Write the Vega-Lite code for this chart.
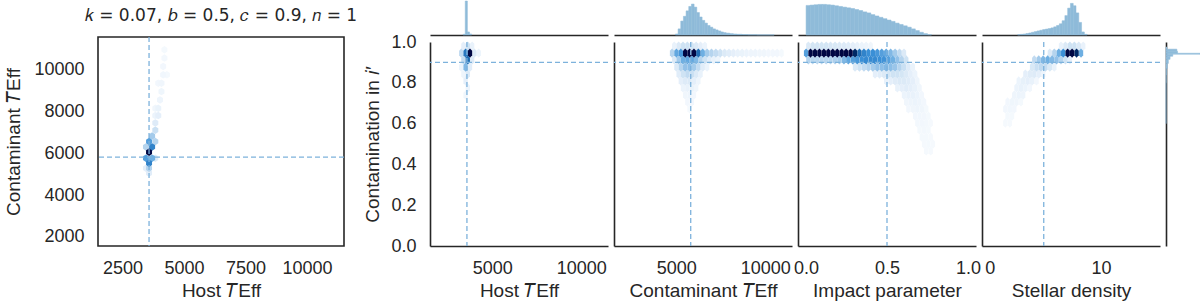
{
  "$schema": "https://vega.github.io/schema/vega-lite/v6.json",
  "padding": {"left": 4, "top": 0, "right": 0, "bottom": 0},
  "background": "white",
  "config": {
    "view": {"stroke": null},
    "axis": {"grid": false, "ticks": false, "tickSize": 0, "labelFont": "Liberation Sans", "labelFontSize": 18, "labelColor": "#262626", "titleFont": "Liberation Sans", "titleFontSize": 19, "titleFontWeight": "normal", "titleColor": "#262626", "domainColor": "#262626", "domainWidth": 1.6, "labelPadding": 13, "titlePadding": 4, "labelFlush": false, "labelOverlap": false},
    "title": {"font": "DejaVu Sans", "fontWeight": "normal", "color": "#262626"}
  },
  "datasets": {
    "truth": [{"host": 3575, "cont": 5810, "c": 0.9, "b": 0.5, "rho": 4.85}],
    "hex": [
      {"p":"L","x":3575,"y":5050,"v":0.12},{"p":"L","x":3575,"y":5280,"v":0.3},{"p":"L","x":3450,"y":5280,"v":0.1},{"p":"L","x":3575,"y":5520,"v":0.75},
      {"p":"L","x":3450,"y":5760,"v":0.6},{"p":"L","x":3700,"y":5760,"v":0.5},{"p":"L","x":3830,"y":5760,"v":0.15},{"p":"L","x":3575,"y":6050,"v":1},
      {"p":"L","x":3450,"y":6300,"v":0.3},{"p":"L","x":3700,"y":6300,"v":0.75},{"p":"L","x":3575,"y":6560,"v":0.6},{"p":"L","x":3830,"y":6560,"v":0.3},
      {"p":"L","x":3700,"y":6820,"v":0.35},{"p":"L","x":3830,"y":7100,"v":0.22},{"p":"L","x":3830,"y":7450,"v":0.14},{"p":"L","x":3950,"y":7800,"v":0.1},
      {"p":"L","x":3830,"y":7800,"v":0.06},{"p":"L","x":3950,"y":8150,"v":0.07},{"p":"L","x":3830,"y":8150,"v":0.04},{"p":"L","x":4020,"y":8550,"v":0.05},
      {"p":"L","x":4080,"y":8950,"v":0.045},{"p":"L","x":4080,"y":9350,"v":0.04},{"p":"L","x":3950,"y":9350,"v":0.03},{"p":"L","x":4150,"y":9750,"v":0.035},
      {"p":"L","x":4300,"y":9750,"v":0.02},{"p":"L","x":4150,"y":10150,"v":0.03},{"p":"L","x":4200,"y":10550,"v":0.025},{"p":"L","x":4200,"y":10950,"v":0.02},

      {"p":"m1","x":3254,"y":0.946,"v":0.25},{"p":"m1","x":3500,"y":0.946,"v":0.8},{"p":"m1","x":3746,"y":0.946,"v":1},{"p":"m1","x":3992,"y":0.946,"v":0.15},{"p":"m1","x":4238,"y":0.946,"v":0.06},
      {"p":"m1","x":3377,"y":0.98,"v":0.1},{"p":"m1","x":3623,"y":0.98,"v":0.2},{"p":"m1","x":3869,"y":0.98,"v":0.08},
      {"p":"m1","x":3377,"y":0.912,"v":0.25},{"p":"m1","x":3623,"y":0.912,"v":0.85},{"p":"m1","x":3869,"y":0.912,"v":0.15},
      {"p":"m1","x":3254,"y":0.877,"v":0.06},{"p":"m1","x":3500,"y":0.877,"v":0.45},{"p":"m1","x":3746,"y":0.877,"v":0.12},
      {"p":"m1","x":3377,"y":0.843,"v":0.05},{"p":"m1","x":3623,"y":0.843,"v":0.15},{"p":"m1","x":3500,"y":0.809,"v":0.1},{"p":"m1","x":3623,"y":0.775,"v":0.06},{"p":"m1","x":3500,"y":0.74,"v":0.04},

      {"p":"m2","x":4762,"y":0.946,"v":0.3},{"p":"m2","x":5008,"y":0.946,"v":0.55},{"p":"m2","x":5254,"y":0.946,"v":0.65},{"p":"m2","x":5500,"y":0.946,"v":1},
      {"p":"m2","x":5746,"y":0.946,"v":1},{"p":"m2","x":5992,"y":0.946,"v":1},{"p":"m2","x":6238,"y":0.946,"v":0.85},{"p":"m2","x":6484,"y":0.946,"v":0.5},
      {"p":"m2","x":6730,"y":0.946,"v":0.35},{"p":"m2","x":6976,"y":0.946,"v":0.3},{"p":"m2","x":7222,"y":0.946,"v":0.25},{"p":"m2","x":7468,"y":0.946,"v":0.2},
      {"p":"m2","x":7714,"y":0.946,"v":0.15},{"p":"m2","x":7960,"y":0.946,"v":0.12},{"p":"m2","x":8206,"y":0.946,"v":0.1},{"p":"m2","x":8452,"y":0.946,"v":0.08},
      {"p":"m2","x":8698,"y":0.946,"v":0.07},{"p":"m2","x":8944,"y":0.946,"v":0.06},{"p":"m2","x":9190,"y":0.946,"v":0.05},{"p":"m2","x":9436,"y":0.946,"v":0.05},
      {"p":"m2","x":9682,"y":0.946,"v":0.04},{"p":"m2","x":9928,"y":0.946,"v":0.04},{"p":"m2","x":10174,"y":0.946,"v":0.03},{"p":"m2","x":10420,"y":0.946,"v":0.03},
      {"p":"m2","x":10666,"y":0.946,"v":0.03},{"p":"m2","x":10912,"y":0.946,"v":0.02},
      {"p":"m2","x":4885,"y":0.98,"v":0.08},{"p":"m2","x":5131,"y":0.98,"v":0.15},{"p":"m2","x":5377,"y":0.98,"v":0.2},{"p":"m2","x":5623,"y":0.98,"v":0.2},
      {"p":"m2","x":5869,"y":0.98,"v":0.18},{"p":"m2","x":6115,"y":0.98,"v":0.15},{"p":"m2","x":6361,"y":0.98,"v":0.1},{"p":"m2","x":6607,"y":0.98,"v":0.06},
      {"p":"m2","x":4885,"y":0.912,"v":0.15},{"p":"m2","x":5131,"y":0.912,"v":0.35},{"p":"m2","x":5377,"y":0.912,"v":0.5},{"p":"m2","x":5623,"y":0.912,"v":0.55},
      {"p":"m2","x":5869,"y":0.912,"v":0.55},{"p":"m2","x":6115,"y":0.912,"v":0.45},{"p":"m2","x":6361,"y":0.912,"v":0.3},{"p":"m2","x":6607,"y":0.912,"v":0.2},
      {"p":"m2","x":6853,"y":0.912,"v":0.12},{"p":"m2","x":7099,"y":0.912,"v":0.08},{"p":"m2","x":7345,"y":0.912,"v":0.05},
      {"p":"m2","x":5008,"y":0.877,"v":0.15},{"p":"m2","x":5254,"y":0.877,"v":0.3},{"p":"m2","x":5500,"y":0.877,"v":0.4},{"p":"m2","x":5746,"y":0.877,"v":0.42},
      {"p":"m2","x":5992,"y":0.877,"v":0.35},{"p":"m2","x":6238,"y":0.877,"v":0.25},{"p":"m2","x":6484,"y":0.877,"v":0.12},{"p":"m2","x":6730,"y":0.877,"v":0.06},
      {"p":"m2","x":5131,"y":0.843,"v":0.12},{"p":"m2","x":5377,"y":0.843,"v":0.2},{"p":"m2","x":5623,"y":0.843,"v":0.25},{"p":"m2","x":5869,"y":0.843,"v":0.22},
      {"p":"m2","x":6115,"y":0.843,"v":0.15},{"p":"m2","x":6361,"y":0.843,"v":0.08},
      {"p":"m2","x":5254,"y":0.809,"v":0.1},{"p":"m2","x":5500,"y":0.809,"v":0.14},{"p":"m2","x":5746,"y":0.809,"v":0.15},{"p":"m2","x":5992,"y":0.809,"v":0.1},{"p":"m2","x":6238,"y":0.809,"v":0.05},
      {"p":"m2","x":5377,"y":0.775,"v":0.06},{"p":"m2","x":5623,"y":0.775,"v":0.08},{"p":"m2","x":5869,"y":0.775,"v":0.07},{"p":"m2","x":6115,"y":0.775,"v":0.04},
      {"p":"m2","x":5500,"y":0.74,"v":0.04},{"p":"m2","x":5746,"y":0.74,"v":0.05},{"p":"m2","x":5992,"y":0.74,"v":0.03},
      {"p":"m2","x":5623,"y":0.706,"v":0.03},{"p":"m2","x":5869,"y":0.706,"v":0.03},{"p":"m2","x":5746,"y":0.672,"v":0.02},

      {"p":"m3","x":0.014,"y":0.98,"v":0.15},{"p":"m3","x":0.041,"y":0.98,"v":0.18},{"p":"m3","x":0.069,"y":0.98,"v":0.18},{"p":"m3","x":0.096,"y":0.98,"v":0.18},
      {"p":"m3","x":0.124,"y":0.98,"v":0.18},{"p":"m3","x":0.151,"y":0.98,"v":0.17},{"p":"m3","x":0.179,"y":0.98,"v":0.16},{"p":"m3","x":0.206,"y":0.98,"v":0.15},
      {"p":"m3","x":0.234,"y":0.98,"v":0.14},{"p":"m3","x":0.261,"y":0.98,"v":0.12},{"p":"m3","x":0.289,"y":0.98,"v":0.1},{"p":"m3","x":0.316,"y":0.98,"v":0.08},
      {"p":"m3","x":0.344,"y":0.98,"v":0.06},{"p":"m3","x":0.371,"y":0.98,"v":0.05},{"p":"m3","x":0.399,"y":0.98,"v":0.04},
      {"p":"m3","x":0,"y":0.946,"v":0.6},{"p":"m3","x":0.0275,"y":0.946,"v":1},{"p":"m3","x":0.055,"y":0.946,"v":1},{"p":"m3","x":0.0825,"y":0.946,"v":1},
      {"p":"m3","x":0.11,"y":0.946,"v":1},{"p":"m3","x":0.1375,"y":0.946,"v":1},{"p":"m3","x":0.165,"y":0.946,"v":1},{"p":"m3","x":0.1925,"y":0.946,"v":1},
      {"p":"m3","x":0.22,"y":0.946,"v":1},{"p":"m3","x":0.2475,"y":0.946,"v":1},{"p":"m3","x":0.275,"y":0.946,"v":1},{"p":"m3","x":0.3025,"y":0.946,"v":0.95},
      {"p":"m3","x":0.33,"y":0.946,"v":0.85},{"p":"m3","x":0.3575,"y":0.946,"v":0.75},{"p":"m3","x":0.385,"y":0.946,"v":0.7},{"p":"m3","x":0.4125,"y":0.946,"v":0.7},
      {"p":"m3","x":0.44,"y":0.946,"v":0.65},{"p":"m3","x":0.4675,"y":0.946,"v":0.6},{"p":"m3","x":0.495,"y":0.946,"v":0.55},{"p":"m3","x":0.5225,"y":0.946,"v":0.45},
      {"p":"m3","x":0.55,"y":0.946,"v":0.35},{"p":"m3","x":0.5775,"y":0.946,"v":0.25},{"p":"m3","x":0.605,"y":0.946,"v":0.15},
      {"p":"m3","x":0.014,"y":0.912,"v":0.3},{"p":"m3","x":0.041,"y":0.912,"v":0.28},{"p":"m3","x":0.069,"y":0.912,"v":0.28},{"p":"m3","x":0.096,"y":0.912,"v":0.28},
      {"p":"m3","x":0.124,"y":0.912,"v":0.28},{"p":"m3","x":0.151,"y":0.912,"v":0.3},{"p":"m3","x":0.179,"y":0.912,"v":0.32},{"p":"m3","x":0.206,"y":0.912,"v":0.35},
      {"p":"m3","x":0.234,"y":0.912,"v":0.45},{"p":"m3","x":0.261,"y":0.912,"v":0.55},{"p":"m3","x":0.289,"y":0.912,"v":0.6},{"p":"m3","x":0.316,"y":0.912,"v":0.65},
      {"p":"m3","x":0.344,"y":0.912,"v":0.7},{"p":"m3","x":0.371,"y":0.912,"v":0.72},{"p":"m3","x":0.399,"y":0.912,"v":0.72},{"p":"m3","x":0.426,"y":0.912,"v":0.72},
      {"p":"m3","x":0.454,"y":0.912,"v":0.7},{"p":"m3","x":0.481,"y":0.912,"v":0.68},{"p":"m3","x":0.509,"y":0.912,"v":0.6},{"p":"m3","x":0.536,"y":0.912,"v":0.5},
      {"p":"m3","x":0.564,"y":0.912,"v":0.4},{"p":"m3","x":0.591,"y":0.912,"v":0.3},{"p":"m3","x":0.619,"y":0.912,"v":0.2},
      {"p":"m3","x":0.3025,"y":0.877,"v":0.15},{"p":"m3","x":0.33,"y":0.877,"v":0.2},{"p":"m3","x":0.3575,"y":0.877,"v":0.25},{"p":"m3","x":0.385,"y":0.877,"v":0.3},
      {"p":"m3","x":0.4125,"y":0.877,"v":0.35},{"p":"m3","x":0.44,"y":0.877,"v":0.4},{"p":"m3","x":0.4675,"y":0.877,"v":0.42},{"p":"m3","x":0.495,"y":0.877,"v":0.45},
      {"p":"m3","x":0.5225,"y":0.877,"v":0.42},{"p":"m3","x":0.55,"y":0.877,"v":0.38},{"p":"m3","x":0.5775,"y":0.877,"v":0.3},{"p":"m3","x":0.605,"y":0.877,"v":0.22},
      {"p":"m3","x":0.6325,"y":0.877,"v":0.14},{"p":"m3","x":0.66,"y":0.877,"v":0.07},
      {"p":"m3","x":0.426,"y":0.843,"v":0.1},{"p":"m3","x":0.454,"y":0.843,"v":0.12},{"p":"m3","x":0.481,"y":0.843,"v":0.15},{"p":"m3","x":0.509,"y":0.843,"v":0.18},
      {"p":"m3","x":0.536,"y":0.843,"v":0.2},{"p":"m3","x":0.564,"y":0.843,"v":0.2},{"p":"m3","x":0.591,"y":0.843,"v":0.18},{"p":"m3","x":0.619,"y":0.843,"v":0.15},
      {"p":"m3","x":0.646,"y":0.843,"v":0.1},{"p":"m3","x":0.674,"y":0.843,"v":0.06},
      {"p":"m3","x":0.495,"y":0.809,"v":0.08},{"p":"m3","x":0.5225,"y":0.809,"v":0.1},{"p":"m3","x":0.55,"y":0.809,"v":0.13},{"p":"m3","x":0.5775,"y":0.809,"v":0.15},
      {"p":"m3","x":0.605,"y":0.809,"v":0.15},{"p":"m3","x":0.6325,"y":0.809,"v":0.13},{"p":"m3","x":0.66,"y":0.809,"v":0.1},{"p":"m3","x":0.6875,"y":0.809,"v":0.05},
      {"p":"m3","x":0.564,"y":0.775,"v":0.08},{"p":"m3","x":0.591,"y":0.775,"v":0.1},{"p":"m3","x":0.619,"y":0.775,"v":0.12},{"p":"m3","x":0.646,"y":0.775,"v":0.1},
      {"p":"m3","x":0.674,"y":0.775,"v":0.08},{"p":"m3","x":0.701,"y":0.775,"v":0.04},
      {"p":"m3","x":0.605,"y":0.74,"v":0.06},{"p":"m3","x":0.6325,"y":0.74,"v":0.08},{"p":"m3","x":0.66,"y":0.74,"v":0.08},{"p":"m3","x":0.6875,"y":0.74,"v":0.06},{"p":"m3","x":0.715,"y":0.74,"v":0.03},
      {"p":"m3","x":0.619,"y":0.706,"v":0.04},{"p":"m3","x":0.646,"y":0.706,"v":0.05},{"p":"m3","x":0.674,"y":0.706,"v":0.06},{"p":"m3","x":0.701,"y":0.706,"v":0.05},{"p":"m3","x":0.729,"y":0.706,"v":0.03},
      {"p":"m3","x":0.6325,"y":0.672,"v":0.03},{"p":"m3","x":0.66,"y":0.672,"v":0.04},{"p":"m3","x":0.6875,"y":0.672,"v":0.05},{"p":"m3","x":0.715,"y":0.672,"v":0.04},{"p":"m3","x":0.7425,"y":0.672,"v":0.02},
      {"p":"m3","x":0.674,"y":0.637,"v":0.03},{"p":"m3","x":0.701,"y":0.637,"v":0.035},{"p":"m3","x":0.729,"y":0.637,"v":0.03},{"p":"m3","x":0.756,"y":0.637,"v":0.02},
      {"p":"m3","x":0.6875,"y":0.603,"v":0.025},{"p":"m3","x":0.715,"y":0.603,"v":0.03},{"p":"m3","x":0.7425,"y":0.603,"v":0.025},{"p":"m3","x":0.77,"y":0.603,"v":0.015},
      {"p":"m3","x":0.701,"y":0.569,"v":0.02},{"p":"m3","x":0.729,"y":0.569,"v":0.025},{"p":"m3","x":0.756,"y":0.569,"v":0.02},
      {"p":"m3","x":0.715,"y":0.534,"v":0.02},{"p":"m3","x":0.7425,"y":0.534,"v":0.02},{"p":"m3","x":0.77,"y":0.534,"v":0.015},
      {"p":"m3","x":0.729,"y":0.5,"v":0.015},{"p":"m3","x":0.756,"y":0.5,"v":0.02},{"p":"m3","x":0.784,"y":0.5,"v":0.015},
      {"p":"m3","x":0.7425,"y":0.466,"v":0.015},{"p":"m3","x":0.77,"y":0.466,"v":0.015},

      {"p":"m4","x":5.4,"y":0.946,"v":0.15},{"p":"m4","x":5.8,"y":0.946,"v":0.3},{"p":"m4","x":6.2,"y":0.946,"v":0.5},{"p":"m4","x":6.6,"y":0.946,"v":0.7},
      {"p":"m4","x":7.0,"y":0.946,"v":1},{"p":"m4","x":7.4,"y":0.946,"v":1},{"p":"m4","x":7.8,"y":0.946,"v":0.95},{"p":"m4","x":8.2,"y":0.946,"v":0.5},
      {"p":"m4","x":6.4,"y":0.98,"v":0.08},{"p":"m4","x":6.8,"y":0.98,"v":0.15},{"p":"m4","x":7.2,"y":0.98,"v":0.2},{"p":"m4","x":7.6,"y":0.98,"v":0.2},{"p":"m4","x":8.0,"y":0.98,"v":0.15},{"p":"m4","x":8.4,"y":0.98,"v":0.08},
      {"p":"m4","x":4.0,"y":0.912,"v":0.25},{"p":"m4","x":4.4,"y":0.912,"v":0.35},{"p":"m4","x":4.8,"y":0.912,"v":0.45},{"p":"m4","x":5.2,"y":0.912,"v":0.5},
      {"p":"m4","x":5.6,"y":0.912,"v":0.45},{"p":"m4","x":6.0,"y":0.912,"v":0.4},{"p":"m4","x":6.4,"y":0.912,"v":0.3},{"p":"m4","x":6.8,"y":0.912,"v":0.2},{"p":"m4","x":7.2,"y":0.912,"v":0.1},
      {"p":"m4","x":3.8,"y":0.877,"v":0.16},{"p":"m4","x":4.2,"y":0.877,"v":0.22},{"p":"m4","x":4.6,"y":0.877,"v":0.26},{"p":"m4","x":5.0,"y":0.877,"v":0.24},{"p":"m4","x":5.4,"y":0.877,"v":0.16},{"p":"m4","x":5.8,"y":0.877,"v":0.08},
      {"p":"m4","x":3.2,"y":0.843,"v":0.1},{"p":"m4","x":3.6,"y":0.843,"v":0.13},{"p":"m4","x":4.0,"y":0.843,"v":0.14},{"p":"m4","x":4.4,"y":0.843,"v":0.1},{"p":"m4","x":4.8,"y":0.843,"v":0.05},
      {"p":"m4","x":2.6,"y":0.809,"v":0.06},{"p":"m4","x":3.0,"y":0.809,"v":0.09},{"p":"m4","x":3.4,"y":0.809,"v":0.1},{"p":"m4","x":3.8,"y":0.809,"v":0.08},{"p":"m4","x":4.2,"y":0.809,"v":0.03},
      {"p":"m4","x":2.4,"y":0.775,"v":0.06},{"p":"m4","x":2.8,"y":0.775,"v":0.08},{"p":"m4","x":3.2,"y":0.775,"v":0.06},{"p":"m4","x":3.6,"y":0.775,"v":0.03},
      {"p":"m4","x":2.2,"y":0.74,"v":0.05},{"p":"m4","x":2.6,"y":0.74,"v":0.06},{"p":"m4","x":3.0,"y":0.74,"v":0.05},
      {"p":"m4","x":1.6,"y":0.706,"v":0.03},{"p":"m4","x":2.0,"y":0.706,"v":0.045},{"p":"m4","x":2.4,"y":0.706,"v":0.04},{"p":"m4","x":2.8,"y":0.706,"v":0.02},
      {"p":"m4","x":1.4,"y":0.672,"v":0.03},{"p":"m4","x":1.8,"y":0.672,"v":0.035},{"p":"m4","x":2.2,"y":0.672,"v":0.03},
      {"p":"m4","x":1.6,"y":0.637,"v":0.02},{"p":"m4","x":2.0,"y":0.637,"v":0.02},{"p":"m4","x":1.4,"y":0.603,"v":0.015},{"p":"m4","x":1.8,"y":0.603,"v":0.015}
    ],
    "hist": [
      {"p":"h1","a":3360,"b":3480,"n":2},{"p":"h1","a":3480,"b":3600,"n":100},{"p":"h1","a":3600,"b":3720,"n":9},{"p":"h1","a":3720,"b":3840,"n":3},
      {"p":"h2","a":4950,"b":5100,"n":3},{"p":"h2","a":5100,"b":5250,"n":18},{"p":"h2","a":5250,"b":5400,"n":41},{"p":"h2","a":5400,"b":5550,"n":55},
      {"p":"h2","a":5550,"b":5700,"n":71},{"p":"h2","a":5700,"b":5850,"n":84},{"p":"h2","a":5850,"b":6000,"n":91},{"p":"h2","a":6000,"b":6150,"n":82},
      {"p":"h2","a":6150,"b":6300,"n":66},{"p":"h2","a":6300,"b":6450,"n":53},{"p":"h2","a":6450,"b":6600,"n":43},{"p":"h2","a":6600,"b":6750,"n":35},
      {"p":"h2","a":6750,"b":6900,"n":28},{"p":"h2","a":6900,"b":7050,"n":23},{"p":"h2","a":7050,"b":7200,"n":18},{"p":"h2","a":7200,"b":7350,"n":15},
      {"p":"h2","a":7350,"b":7500,"n":12},{"p":"h2","a":7500,"b":7650,"n":9},{"p":"h2","a":7650,"b":7800,"n":7},{"p":"h2","a":7800,"b":8000,"n":5.5},
      {"p":"h2","a":8000,"b":8200,"n":4},{"p":"h2","a":8200,"b":8400,"n":3},{"p":"h2","a":8400,"b":8700,"n":2.2},{"p":"h2","a":8700,"b":9000,"n":1.4},
      {"p":"h2","a":9000,"b":9500,"n":0.9},{"p":"h2","a":9500,"b":10500,"n":0.4},
      {"p":"h3","a":0,"b":0.025,"n":87},{"p":"h3","a":0.025,"b":0.05,"n":88},{"p":"h3","a":0.05,"b":0.075,"n":89},{"p":"h3","a":0.075,"b":0.1,"n":90},
      {"p":"h3","a":0.1,"b":0.125,"n":90},{"p":"h3","a":0.125,"b":0.15,"n":89},{"p":"h3","a":0.15,"b":0.175,"n":88},{"p":"h3","a":0.175,"b":0.2,"n":86},
      {"p":"h3","a":0.2,"b":0.225,"n":84},{"p":"h3","a":0.225,"b":0.25,"n":82},{"p":"h3","a":0.25,"b":0.275,"n":80},{"p":"h3","a":0.275,"b":0.3,"n":78},
      {"p":"h3","a":0.3,"b":0.325,"n":75},{"p":"h3","a":0.325,"b":0.35,"n":72},{"p":"h3","a":0.35,"b":0.375,"n":68},{"p":"h3","a":0.375,"b":0.4,"n":65},
      {"p":"h3","a":0.4,"b":0.425,"n":60},{"p":"h3","a":0.425,"b":0.45,"n":56},{"p":"h3","a":0.45,"b":0.475,"n":52},{"p":"h3","a":0.475,"b":0.5,"n":48},
      {"p":"h3","a":0.5,"b":0.525,"n":44},{"p":"h3","a":0.525,"b":0.55,"n":40},{"p":"h3","a":0.55,"b":0.575,"n":35},{"p":"h3","a":0.575,"b":0.6,"n":31},
      {"p":"h3","a":0.6,"b":0.625,"n":27},{"p":"h3","a":0.625,"b":0.65,"n":23},{"p":"h3","a":0.65,"b":0.675,"n":18},{"p":"h3","a":0.675,"b":0.7,"n":13},
      {"p":"h3","a":0.7,"b":0.725,"n":8},{"p":"h3","a":0.725,"b":0.75,"n":4},{"p":"h3","a":0.75,"b":0.775,"n":1},
      {"p":"h4","a":2.5,"b":2.75,"n":1},{"p":"h4","a":2.75,"b":3.0,"n":2},{"p":"h4","a":3.0,"b":3.25,"n":3},{"p":"h4","a":3.25,"b":3.5,"n":4.5},
      {"p":"h4","a":3.5,"b":3.75,"n":6},{"p":"h4","a":3.75,"b":4.0,"n":8},{"p":"h4","a":4.0,"b":4.25,"n":10},{"p":"h4","a":4.25,"b":4.5,"n":12},
      {"p":"h4","a":4.5,"b":4.75,"n":14},{"p":"h4","a":4.75,"b":5.0,"n":16},{"p":"h4","a":5.0,"b":5.25,"n":17.5},{"p":"h4","a":5.25,"b":5.5,"n":19},
      {"p":"h4","a":5.5,"b":5.75,"n":21},{"p":"h4","a":5.75,"b":6.0,"n":24},{"p":"h4","a":6.0,"b":6.25,"n":28},{"p":"h4","a":6.25,"b":6.5,"n":33},
      {"p":"h4","a":6.5,"b":6.75,"n":42},{"p":"h4","a":6.75,"b":7.0,"n":57},{"p":"h4","a":7.0,"b":7.25,"n":79},{"p":"h4","a":7.25,"b":7.5,"n":93},
      {"p":"h4","a":7.5,"b":7.75,"n":86},{"p":"h4","a":7.75,"b":8.0,"n":65},{"p":"h4","a":8.0,"b":8.25,"n":37},{"p":"h4","a":8.25,"b":8.5,"n":9},{"p":"h4","a":8.5,"b":8.75,"n":2},
      {"p":"rh","a":0.965,"b":0.975,"n":3},{"p":"rh","a":0.955,"b":0.965,"n":32},{"p":"rh","a":0.945,"b":0.955,"n":34},{"p":"rh","a":0.94,"b":0.945,"n":100},
      {"p":"rh","a":0.93,"b":0.94,"n":20},{"p":"rh","a":0.915,"b":0.93,"n":12},{"p":"rh","a":0.895,"b":0.915,"n":7},{"p":"rh","a":0.87,"b":0.895,"n":4},
      {"p":"rh","a":0.84,"b":0.87,"n":2},{"p":"rh","a":0.8,"b":0.84,"n":1},{"p":"rh","a":0.6,"b":0.8,"n":0.3}
    ]
  },
  "spacing": -4,
  "resolve": {"scale": {"x": "independent", "y": "independent", "color": "independent"}},
  "hconcat": [
    {
      "bounds": "flush",
      "spacing": 7,
      "resolve": {"scale": {"x": "independent", "y": "independent", "color": "independent"}},
      "vconcat": [
        {"width": 246, "height": 29, "data": {"values": [{"e": 0}]}, "mark": {"type": "point", "opacity": 0}, "encoding": {}},
        {
          "width": 246, "height": 209,
          "view": {"stroke": "#262626", "strokeWidth": 1.6},
          "title": {"text": "𝑘 = 0.07,  𝑏 = 0.5,  𝑐 = 0.9,  𝑛 = 1", "fontSize": 17, "offset": 11, "anchor": "middle"},
          "layer": [
            {"data": {"name": "hex"}, "transform": [{"filter": "datum.p == 'L'"}],
             "mark": {"type": "point", "filled": true, "opacity": 1, "strokeWidth": 0, "size": 56, "shape": "M0,-1L0.8,-0.5L0.8,0.5L0,1L-0.8,0.5L-0.8,-0.5Z"},
             "encoding": {
               "x": {"field": "x", "type": "quantitative", "scale": {"domain": [1500, 11500], "nice": false, "zero": false}, "title": "Host 𝑇Eff", "axis": {"values": [2500, 5000, 7500, 10000], "format": "d", "domain": false, "labelPadding": 13}},
               "y": {"field": "y", "type": "quantitative", "scale": {"domain": [1560, 11560], "nice": false, "zero": false}, "title": "Contaminant 𝑇Eff", "axis": {"values": [2000, 4000, 6000, 8000, 10000], "format": "d", "domain": false, "labelPadding": 14, "titlePadding": 10}},
               "color": {"field": "v", "type": "quantitative", "legend": null, "scale": {"domain": [0, 0.05, 0.15, 0.3, 0.5, 0.7, 0.85, 1], "range": ["#f8fbfe", "#eef5fc", "#dceaf7", "#b5d4ee", "#6eafe2", "#3a8fd6", "#1f6cb3", "#000000"]}},
               "order": {"field": "v", "type": "quantitative"}
             }},
            {"data": {"name": "truth"}, "mark": {"type": "rule", "color": "#7db2dc", "strokeWidth": 1.3, "strokeDash": [5, 3]},
             "encoding": {"x": {"field": "host", "type": "quantitative", "scale": {"domain": [1500, 11500], "nice": false, "zero": false}, "title": "Host 𝑇Eff"}}},
            {"data": {"name": "truth"}, "mark": {"type": "rule", "color": "#7db2dc", "strokeWidth": 1.3, "strokeDash": [5, 3]},
             "encoding": {"y": {"field": "cont", "type": "quantitative", "scale": {"domain": [1560, 11560], "nice": false, "zero": false}, "title": "Contaminant 𝑇Eff"}}}
          ]
        }
      ]
    },
    {
      "columns": 5,
      "bounds": "flush",
      "spacing": {"row": 7, "column": 6},
      "resolve": {"scale": {"x": "independent", "y": "independent", "color": "independent"}},
      "concat": [
        {"width": 178, "height": 34, "data": {"name": "hist"}, "transform": [{"filter": "datum.p == 'h1'"}],
         "mark": {"type": "rect", "color": "#8fbbd9", "stroke": "#8fbbd9", "strokeWidth": 0.5},
         "encoding": {
           "x": {"field": "a", "type": "quantitative", "scale": {"domain": [1500, 11500], "nice": false, "zero": false}, "axis": {"labels": false, "title": null}},
           "x2": {"field": "b"},
           "y": {"field": "n", "type": "quantitative", "scale": {"domain": [0, 100], "nice": false}, "axis": null},
           "y2": {"datum": 0}}},
        {"width": 178, "height": 34, "data": {"name": "hist"}, "transform": [{"filter": "datum.p == 'h2'"}],
         "mark": {"type": "rect", "color": "#8fbbd9", "stroke": "#8fbbd9", "strokeWidth": 0.5},
         "encoding": {
           "x": {"field": "a", "type": "quantitative", "scale": {"domain": [1500, 11500], "nice": false, "zero": false}, "axis": {"labels": false, "title": null}},
           "x2": {"field": "b"},
           "y": {"field": "n", "type": "quantitative", "scale": {"domain": [0, 100], "nice": false}, "axis": null},
           "y2": {"datum": 0}}},
        {"width": 178, "height": 34, "data": {"name": "hist"}, "transform": [{"filter": "datum.p == 'h3'"}],
         "mark": {"type": "rect", "color": "#8fbbd9", "stroke": "#8fbbd9", "strokeWidth": 0.5},
         "encoding": {
           "x": {"field": "a", "type": "quantitative", "scale": {"domain": [-0.05, 1.05], "nice": false, "zero": false}, "axis": {"labels": false, "title": null}},
           "x2": {"field": "b"},
           "y": {"field": "n", "type": "quantitative", "scale": {"domain": [0, 100], "nice": false}, "axis": null},
           "y2": {"datum": 0}}},
        {"width": 178, "height": 34, "data": {"name": "hist"}, "transform": [{"filter": "datum.p == 'h4'"}],
         "mark": {"type": "rect", "color": "#8fbbd9", "stroke": "#8fbbd9", "strokeWidth": 0.5},
         "encoding": {
           "x": {"field": "a", "type": "quantitative", "scale": {"domain": [-0.7, 15.3], "nice": false, "zero": false}, "axis": {"labels": false, "title": null}},
           "x2": {"field": "b"},
           "y": {"field": "n", "type": "quantitative", "scale": {"domain": [0, 100], "nice": false}, "axis": null},
           "y2": {"datum": 0}}},
        {"width": 34, "height": 34, "data": {"values": [{"e": 0}]}, "mark": {"type": "point", "opacity": 0}, "encoding": {}},

        {"width": 178, "height": 204,
         "layer": [
           {"data": {"name": "hex"}, "transform": [{"filter": "datum.p == 'm1'"}],
            "mark": {"type": "point", "filled": true, "opacity": 1, "strokeWidth": 0, "size": 86, "shape": "M0,-1L0.47,-0.5L0.47,0.5L0,1L-0.47,0.5L-0.47,-0.5Z"},
            "encoding": {
              "x": {"field": "x", "type": "quantitative", "scale": {"domain": [1500, 11500], "nice": false, "zero": false}, "title": "Host 𝑇Eff", "axis": {"values": [5000, 10000], "format": "d"}},
              "y": {"field": "y", "type": "quantitative", "scale": {"domain": [0, 1], "nice": false, "zero": false}, "title": "Contamination in 𝑖′", "axis": {"values": [0, 0.2, 0.4, 0.6, 0.8, 1], "format": ".1f", "labelPadding": 14, "titlePadding": 8}},
              "color": {"field": "v", "type": "quantitative", "legend": null, "scale": {"domain": [0, 0.05, 0.15, 0.3, 0.5, 0.7, 0.85, 1], "range": ["#f8fbfe", "#eef5fc", "#dceaf7", "#b5d4ee", "#6eafe2", "#3a8fd6", "#1f6cb3", "#000000"]}},
              "order": {"field": "v", "type": "quantitative"}}},
           {"data": {"name": "truth"}, "mark": {"type": "rule", "color": "#7db2dc", "strokeWidth": 1.3, "strokeDash": [5, 3]},
            "encoding": {"x": {"field": "host", "type": "quantitative", "scale": {"domain": [1500, 11500], "nice": false, "zero": false}, "title": "Host 𝑇Eff"}}},
           {"data": {"name": "truth"}, "mark": {"type": "rule", "color": "#7db2dc", "strokeWidth": 1.3, "strokeDash": [5, 3]},
            "encoding": {"y": {"field": "c", "type": "quantitative", "scale": {"domain": [0, 1], "nice": false, "zero": false}, "title": "Contamination in 𝑖′"}}}
         ]},
        {"width": 178, "height": 204,
         "layer": [
           {"data": {"name": "hex"}, "transform": [{"filter": "datum.p == 'm2'"}],
            "mark": {"type": "point", "filled": true, "opacity": 1, "strokeWidth": 0, "size": 86, "shape": "M0,-1L0.47,-0.5L0.47,0.5L0,1L-0.47,0.5L-0.47,-0.5Z"},
            "encoding": {
              "x": {"field": "x", "type": "quantitative", "scale": {"domain": [1500, 11500], "nice": false, "zero": false}, "title": "Contaminant 𝑇Eff", "axis": {"values": [5000, 10000], "format": "d"}},
              "y": {"field": "y", "type": "quantitative", "scale": {"domain": [0, 1], "nice": false, "zero": false}, "axis": {"labels": false, "title": null}},
              "color": {"field": "v", "type": "quantitative", "legend": null, "scale": {"domain": [0, 0.05, 0.15, 0.3, 0.5, 0.7, 0.85, 1], "range": ["#f8fbfe", "#eef5fc", "#dceaf7", "#b5d4ee", "#6eafe2", "#3a8fd6", "#1f6cb3", "#000000"]}},
              "order": {"field": "v", "type": "quantitative"}}},
           {"data": {"name": "truth"}, "mark": {"type": "rule", "color": "#7db2dc", "strokeWidth": 1.3, "strokeDash": [5, 3]},
            "encoding": {"x": {"field": "cont", "type": "quantitative", "scale": {"domain": [1500, 11500], "nice": false, "zero": false}, "title": "Contaminant 𝑇Eff"}}},
           {"data": {"name": "truth"}, "mark": {"type": "rule", "color": "#7db2dc", "strokeWidth": 1.3, "strokeDash": [5, 3]},
            "encoding": {"y": {"field": "c", "type": "quantitative", "scale": {"domain": [0, 1], "nice": false, "zero": false}, "axis": {"labels": false, "title": null}}}}
         ]},
        {"width": 178, "height": 204,
         "layer": [
           {"data": {"name": "hex"}, "transform": [{"filter": "datum.p == 'm3'"}],
            "mark": {"type": "point", "filled": true, "opacity": 1, "strokeWidth": 0, "size": 86, "shape": "M0,-1L0.47,-0.5L0.47,0.5L0,1L-0.47,0.5L-0.47,-0.5Z"},
            "encoding": {
              "x": {"field": "x", "type": "quantitative", "scale": {"domain": [-0.05, 1.05], "nice": false, "zero": false}, "title": "Impact parameter", "axis": {"values": [0, 0.5, 1], "format": ".1f"}},
              "y": {"field": "y", "type": "quantitative", "scale": {"domain": [0, 1], "nice": false, "zero": false}, "axis": {"labels": false, "title": null}},
              "color": {"field": "v", "type": "quantitative", "legend": null, "scale": {"domain": [0, 0.05, 0.15, 0.3, 0.5, 0.7, 0.85, 1], "range": ["#f8fbfe", "#eef5fc", "#dceaf7", "#b5d4ee", "#6eafe2", "#3a8fd6", "#1f6cb3", "#000000"]}},
              "order": {"field": "v", "type": "quantitative"}}},
           {"data": {"name": "truth"}, "mark": {"type": "rule", "color": "#7db2dc", "strokeWidth": 1.3, "strokeDash": [5, 3]},
            "encoding": {"x": {"field": "b", "type": "quantitative", "scale": {"domain": [-0.05, 1.05], "nice": false, "zero": false}, "title": "Impact parameter"}}},
           {"data": {"name": "truth"}, "mark": {"type": "rule", "color": "#7db2dc", "strokeWidth": 1.3, "strokeDash": [5, 3]},
            "encoding": {"y": {"field": "c", "type": "quantitative", "scale": {"domain": [0, 1], "nice": false, "zero": false}, "axis": {"labels": false, "title": null}}}}
         ]},
        {"width": 178, "height": 204,
         "layer": [
           {"data": {"name": "hex"}, "transform": [{"filter": "datum.p == 'm4'"}],
            "mark": {"type": "point", "filled": true, "opacity": 1, "strokeWidth": 0, "size": 86, "shape": "M0,-1L0.47,-0.5L0.47,0.5L0,1L-0.47,0.5L-0.47,-0.5Z"},
            "encoding": {
              "x": {"field": "x", "type": "quantitative", "scale": {"domain": [-0.7, 15.3], "nice": false, "zero": false}, "title": "Stellar density", "axis": {"values": [0, 10], "format": "d"}},
              "y": {"field": "y", "type": "quantitative", "scale": {"domain": [0, 1], "nice": false, "zero": false}, "axis": {"labels": false, "title": null}},
              "color": {"field": "v", "type": "quantitative", "legend": null, "scale": {"domain": [0, 0.05, 0.15, 0.3, 0.5, 0.7, 0.85, 1], "range": ["#f8fbfe", "#eef5fc", "#dceaf7", "#b5d4ee", "#6eafe2", "#3a8fd6", "#1f6cb3", "#000000"]}},
              "order": {"field": "v", "type": "quantitative"}}},
           {"data": {"name": "truth"}, "mark": {"type": "rule", "color": "#7db2dc", "strokeWidth": 1.3, "strokeDash": [5, 3]},
            "encoding": {"x": {"field": "rho", "type": "quantitative", "scale": {"domain": [-0.7, 15.3], "nice": false, "zero": false}, "title": "Stellar density"}}},
           {"data": {"name": "truth"}, "mark": {"type": "rule", "color": "#7db2dc", "strokeWidth": 1.3, "strokeDash": [5, 3]},
            "encoding": {"y": {"field": "c", "type": "quantitative", "scale": {"domain": [0, 1], "nice": false, "zero": false}, "axis": {"labels": false, "title": null}}}}
         ]},
        {"width": 34, "height": 204, "data": {"name": "hist"}, "transform": [{"filter": "datum.p == 'rh'"}],
         "mark": {"type": "rect", "color": "#8fbbd9", "stroke": "#8fbbd9", "strokeWidth": 0.5},
         "encoding": {
           "y": {"field": "a", "type": "quantitative", "scale": {"domain": [0, 1], "nice": false, "zero": false}, "axis": {"labels": false, "title": null}},
           "y2": {"field": "b"},
           "x": {"field": "n", "type": "quantitative", "scale": {"domain": [0, 100], "nice": false}, "axis": null},
           "x2": {"datum": 0}}}
      ]
    }
  ]
}
